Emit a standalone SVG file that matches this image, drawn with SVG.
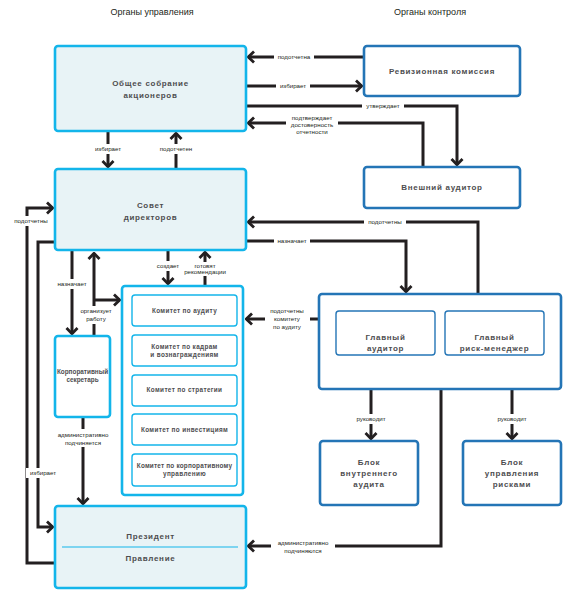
<svg xmlns="http://www.w3.org/2000/svg" width="572" height="600" viewBox="0 0 572 600">
<defs>
<style>
.t{font-family:"Liberation Sans",Arial,sans-serif;font-size:9px;fill:#231f20;text-anchor:middle}
.n{font-family:"Liberation Sans",Arial,sans-serif;font-size:8px;font-weight:bold;fill:#4d4d4f;text-anchor:middle;letter-spacing:0.7px}
.c{font-family:"Liberation Sans",Arial,sans-serif;font-size:6.4px;font-weight:bold;fill:#4d4d4f;text-anchor:middle;letter-spacing:0.35px}
.l{font-family:"Liberation Sans",Arial,sans-serif;font-size:6.2px;fill:#231f20;text-anchor:middle}
.g{fill:#e8f3f6;stroke:#13b5ea;stroke-width:2.6}
.cy{fill:#ffffff;stroke:#13b5ea;stroke-width:2.6}
.ci{fill:#ffffff;stroke:#13b5ea;stroke-width:1.4}
.d{fill:#ffffff;stroke:#2475b6;stroke-width:2.6}
.di{fill:#ffffff;stroke:#2475b6;stroke-width:1.4}
.w{fill:#ffffff}
.k{fill:none;stroke:#231f20;stroke-width:3}
</style>
<marker id="a" viewBox="0 0 10 14" refX="8.5" refY="7" markerWidth="10" markerHeight="14" markerUnits="userSpaceOnUse" orient="auto">
<path d="M2.5,1.5 L8.2,7 L2.5,12.5" fill="none" stroke="#231f20" stroke-width="2.8"/>
</marker>
</defs>
<rect width="572" height="600" fill="#ffffff"/>
<text class="t" x="152" y="15">Органы управления</text>
<text class="t" x="430" y="15">Органы контроля</text>

<g id="connectors">
<path class="k" d="M364,57 H248" marker-end="url(#a)"/>
<path class="k" d="M246,86 H362" marker-end="url(#a)"/>
<path class="k" d="M246,106 H457 V165" marker-end="url(#a)"/>
<path class="k" d="M423,167 V123 H248" marker-end="url(#a)"/>
<path class="k" d="M108,131 V167" marker-end="url(#a)"/>
<path class="k" d="M176,169 V133" marker-end="url(#a)"/>
<path class="k" d="M55,563 H27 V208 H53" marker-end="url(#a)"/>
<path class="k" d="M55,242 H38 V527 H53" marker-end="url(#a)"/>
<path class="k" d="M72,250 V334" marker-end="url(#a)"/>
<path class="k" d="M94,336 V253" marker-end="url(#a)"/>
<path class="k" d="M94,300 H120" marker-end="url(#a)"/>
<path class="k" d="M83,417 V504" marker-end="url(#a)"/>
<path class="k" d="M168,250 V284" marker-end="url(#a)"/>
<path class="k" d="M205,286 V252" marker-end="url(#a)"/>
<path class="k" d="M478,294 V222 H248" marker-end="url(#a)"/>
<path class="k" d="M246,241 H406 V292" marker-end="url(#a)"/>
<path class="k" d="M319,319 H246" marker-end="url(#a)"/>
<path class="k" d="M371,355 V439" marker-end="url(#a)"/>
<path class="k" d="M512,355 V439" marker-end="url(#a)"/>
<path class="k" d="M441,389 V546 H248" marker-end="url(#a)"/>

<rect class="w" x="274" y="52" width="40" height="10"/>
<text class="l" x="294" y="59">подотчетна</text>
<rect class="w" x="276" y="81" width="34" height="10"/>
<text class="l" x="293" y="88">избирает</text>
<rect class="w" x="362" y="101" width="42" height="10"/>
<text class="l" x="383" y="108">утверждает</text>
<rect class="w" x="286" y="113" width="52" height="24"/>
<text class="l" x="312" y="120">подтверждает</text>
<text class="l" x="312" y="127">достоверность</text>
<text class="l" x="312" y="134">отчетности</text>
<rect class="w" x="92" y="144" width="32" height="10"/>
<text class="l" x="108" y="151">избирает</text>
<rect class="w" x="156" y="144" width="40" height="10"/>
<text class="l" x="176" y="151">подотчетен</text>
<rect class="w" x="10" y="216" width="42" height="10"/>
<text class="l" x="31" y="223">подотчетны</text>
<rect class="w" x="26" y="468" width="34" height="10"/>
<text class="l" x="43" y="475">избирает</text>
<rect class="w" x="55" y="279" width="34" height="10"/>
<text class="l" x="72" y="286">назначает</text>
<rect class="w" x="78" y="306" width="36" height="18"/>
<text class="l" x="96" y="313">организует</text>
<text class="l" x="96" y="321">работу</text>
<rect class="w" x="52" y="429" width="62" height="18"/>
<text class="l" x="83" y="437">административно</text>
<text class="l" x="83" y="445">подчиняется</text>
<rect class="w" x="154" y="261" width="28" height="10"/>
<text class="l" x="168" y="268">создает</text>
<rect class="w" x="184" y="262" width="44" height="14"/>
<text class="l" x="205" y="268">готовят</text>
<text class="l" x="205" y="274">рекомендации</text>
<rect class="w" x="364" y="217" width="42" height="10"/>
<text class="l" x="385" y="224">подотчетны</text>
<rect class="w" x="274" y="236" width="36" height="10"/>
<text class="l" x="292" y="243">назначает</text>
<rect class="w" x="265" y="306" width="45" height="25"/>
<text class="l" x="287" y="313">подотчетны</text>
<text class="l" x="287" y="321">комитету</text>
<text class="l" x="287" y="329">по аудиту</text>
<rect class="w" x="352" y="414" width="38" height="10"/>
<text class="l" x="371" y="421">руководит</text>
<rect class="w" x="493" y="414" width="38" height="10"/>
<text class="l" x="512" y="421">руководит</text>
<rect class="w" x="271" y="538" width="64" height="18"/>
<text class="l" x="303" y="545">административно</text>
<text class="l" x="303" y="553">подчиняются</text>
</g>

<g id="n-meeting">
<rect class="g" x="55" y="46" width="191" height="85" rx="3"/>
<text class="n" x="150.5" y="86">Общее собрание</text>
<text class="n" x="150.5" y="98">акционеров</text>
</g>
<g id="n-board">
<rect class="g" x="55" y="169" width="191" height="81" rx="3"/>
<text class="n" x="150.5" y="208">Совет</text>
<text class="n" x="150.5" y="220">директоров</text>
</g>
<g id="n-secretary">
<rect class="cy" x="55" y="336" width="55" height="81" rx="3"/>
<text class="c" x="82.5" y="374" style="letter-spacing:0">Корпоративный</text>
<text class="c" x="82.5" y="382" style="letter-spacing:0">секретарь</text>
</g>
<g id="n-committees">
<rect class="cy" x="122" y="286" width="121" height="209" rx="3"/>
<g id="n-c-audit"><rect class="ci" x="132" y="295" width="105" height="31" rx="3"/>
<text class="c" x="184.5" y="313">Комитет по аудиту</text></g>
<g id="n-c-hr"><rect class="ci" x="132" y="335" width="105" height="31" rx="3"/>
<text class="c" x="184.5" y="349">Комитет по кадрам</text>
<text class="c" x="184.5" y="357">и вознаграждениям</text></g>
<g id="n-c-strategy"><rect class="ci" x="132" y="375" width="105" height="31" rx="3"/>
<text class="c" x="184.5" y="392">Комитет по стратегии</text></g>
<g id="n-c-invest"><rect class="ci" x="132" y="414" width="105" height="31" rx="3"/>
<text class="c" x="184.5" y="432">Комитет по инвестициям</text></g>
<g id="n-c-gov"><rect class="ci" x="132" y="454" width="105" height="32" rx="3"/>
<text class="c" x="184.5" y="468" style="letter-spacing:0.2px">Комитет по корпоративному</text>
<text class="c" x="184.5" y="476">управлению</text></g>
</g>
<g id="n-president">
<rect class="g" x="55" y="506" width="191" height="82" rx="3"/>
<line x1="62" y1="547" x2="238" y2="547" stroke="#13b5ea" stroke-width="1"/>
<text class="n" x="150.5" y="539">Президент</text>
<text class="n" x="150.5" y="561">Правление</text>
</g>
<g id="n-revision">
<rect class="d" x="364" y="46" width="156" height="50" rx="3"/>
<text class="n" x="442" y="74">Ревизионная комиссия</text>
</g>
<g id="n-external">
<rect class="d" x="364" y="167" width="156" height="41" rx="3"/>
<text class="n" x="442" y="190">Внешний аудитор</text>
</g>
<g id="n-control">
<rect class="d" x="319" y="294" width="242" height="95" rx="3"/>
<g id="n-chief-auditor"><rect class="di" x="336" y="311" width="99" height="44" rx="3"/>
<text class="n" x="385.5" y="340">Главный</text>
<text class="n" x="385.5" y="351">аудитор</text></g>
<g id="n-risk-manager"><rect class="di" x="445" y="311" width="99" height="44" rx="3"/>
<text class="n" x="494.5" y="340">Главный</text>
<text class="n" x="494.5" y="351">риск-менеджер</text></g>
</g>
<g id="n-internal-audit">
<rect class="d" x="320" y="441" width="98" height="64" rx="3"/>
<text class="n" x="369" y="465">Блок</text>
<text class="n" x="369" y="476">внутреннего</text>
<text class="n" x="369" y="487">аудита</text>
</g>
<g id="n-risk-unit">
<rect class="d" x="463" y="441" width="98" height="64" rx="3"/>
<text class="n" x="512" y="465">Блок</text>
<text class="n" x="512" y="476">управления</text>
<text class="n" x="512" y="487">рисками</text>
</g>
</svg>
